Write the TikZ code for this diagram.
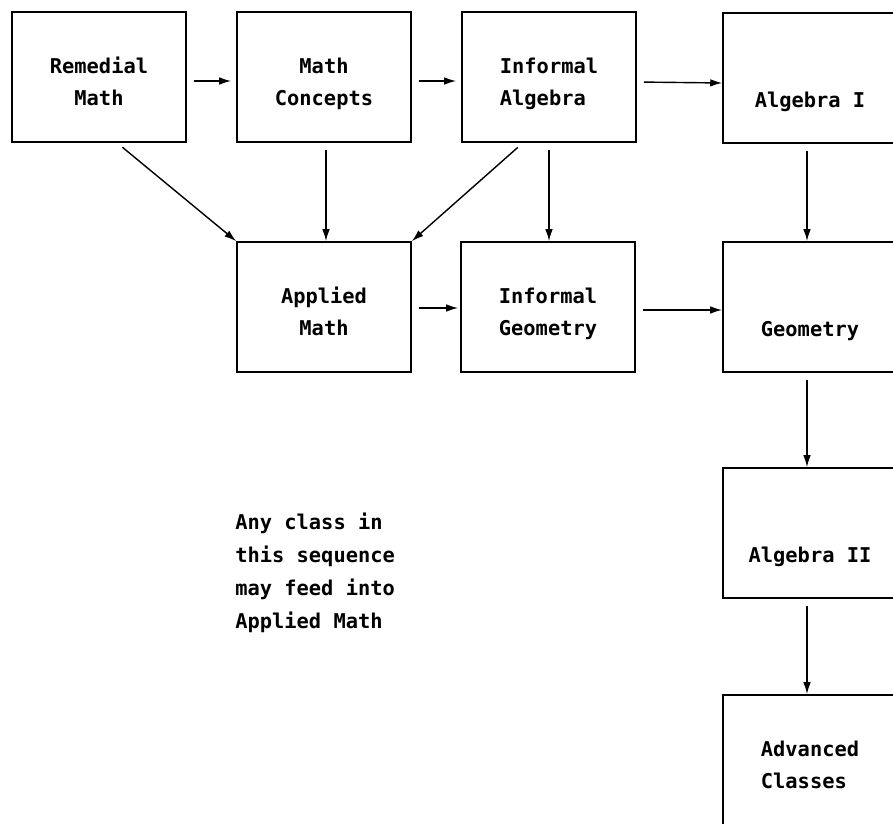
\documentclass[tikz,border=0pt]{standalone}
\usepackage{fontspec}
\setmonofont{DejaVu Sans Mono}
\usepackage{tikz}
\usetikzlibrary{arrows.meta, positioning, calc}
\tikzset{
  course/.style={rectangle, draw=black, line width=0.9pt,
    minimum width=3.48cm, minimum height=2.6cm, inner sep=2pt,
    align=center, text height=1.15cm, text depth=0pt,
    font=\ttfamily\bfseries\fontsize{11.6}{18.4}\selectfont},
  lowtext/.style={text height=1.17cm, text depth=0pt},
  note/.style={align=left, inner sep=0pt,
    font=\ttfamily\bfseries\fontsize{11.6}{18.8}\selectfont},
  arrow/.style={-{Latex[length=0.24cm, width=0.15cm]}, line width=0.8pt,
    shorten <=0.14cm}
}
\begin{document}
\begin{tikzpicture}[x=0.02cm, y=-0.02cm]
  \useasboundingbox (0,0) rectangle (893,824);

  % Top row
  \node[course] (remedial) at (99,77) {Remedial\\Math};
  \node[course] (concepts) at (324,77) {Math\\Concepts};
  \node[course, align=left] (infalg) at (549,77) {Informal\\Algebra};
  \node[course, lowtext] (algone) at (810,78) {Algebra I};

  % Middle row
  \node[course] (applied) at (324,307) {Applied\\Math};
  \node[course, align=left] (infgeo) at (548,307) {Informal\\Geometry};
  \node[course, lowtext] (geometry) at (810,307) {Geometry};

  % Right column
  \node[course, lowtext] (algtwo) at (810,533) {Algebra II};
  \node[course, align=left] (advanced) at (810,760) {Advanced\\Classes};

  % Note
  \node[note, anchor=west] (feednote) at (235,573) {Any class in\\this sequence\\may feed into\\Applied Math};

  % Sequence arrows
  \draw[arrow, shorten >=0.1cm] ([yshift=-0.08cm]remedial.east) -- ([yshift=-0.08cm]concepts.west);
  \draw[arrow, shorten >=0.1cm] ([yshift=-0.08cm]concepts.east) -- ([yshift=-0.08cm]infalg.west);
  \draw[arrow] ([yshift=-0.1cm]infalg.east) -- ([yshift=-0.1cm]algone.west);
  \draw[arrow, shorten >=0.04cm] ([yshift=-0.02cm]applied.east) -- ([yshift=-0.02cm]infgeo.west);
  \draw[arrow] ([yshift=-0.06cm]infgeo.east) -- ([yshift=-0.06cm]geometry.west);

  % Arrows into Applied Math
  \draw[arrow] ([xshift=0.36cm]remedial.south) -- (applied.north west);
  \draw[arrow] ([xshift=0.04cm]concepts.south) -- ([xshift=0.04cm]applied.north);
  \draw[arrow] ([xshift=-0.52cm]infalg.south) -- (applied.north east);

  % Downward arrows
  \draw[arrow] (infalg.south) -- (infalg.south |- infgeo.north);
  \draw[arrow] ([xshift=-0.06cm]algone.south) -- ([xshift=-0.06cm]geometry.north);
  \draw[arrow] ([xshift=-0.06cm]geometry.south) -- ([xshift=-0.06cm]algtwo.north);
  \draw[arrow] ([xshift=-0.06cm]algtwo.south) -- ([xshift=-0.06cm]advanced.north);
\end{tikzpicture}
\end{document}
